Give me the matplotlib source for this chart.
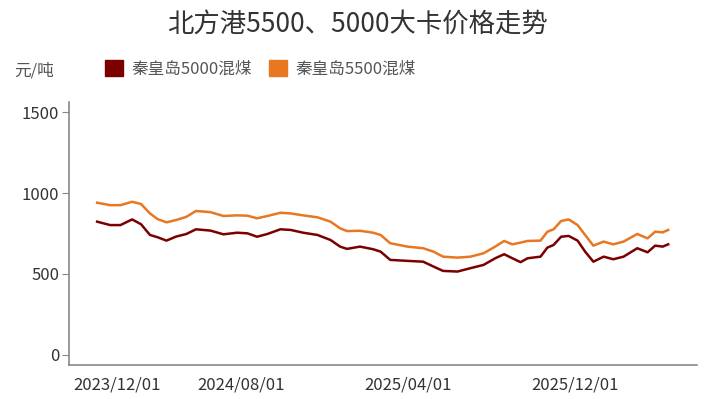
import matplotlib
matplotlib.use("Agg")
import matplotlib.pyplot as plt
import matplotlib.dates as mdates
from matplotlib.patches import Patch
import numpy as np
import pandas as pd


# ---- data ----
dates = pd.to_datetime([
    "2024-01-04", "2024-01-23", "2024-02-07", "2024-02-24", "2024-03-08",
    "2024-03-21", "2024-04-01", "2024-04-14", "2024-04-28", "2024-05-13",
    "2024-05-27", "2024-06-17", "2024-07-06", "2024-07-26", "2024-08-10",
    "2024-08-24", "2024-09-08", "2024-09-27", "2024-10-12", "2024-10-30",
    "2024-11-20", "2024-12-09", "2024-12-23", "2025-01-02", "2025-01-21",
    "2025-02-09", "2025-02-20", "2025-03-06", "2025-03-31", "2025-04-23",
    "2025-05-08", "2025-05-22", "2025-06-12", "2025-07-01", "2025-07-20",
    "2025-08-06", "2025-08-19", "2025-08-31", "2025-09-12", "2025-09-22",
    "2025-10-11", "2025-10-21", "2025-10-30", "2025-11-10", "2025-11-21",
    "2025-12-04", "2025-12-15", "2025-12-27", "2026-01-11", "2026-01-25",
    "2026-02-09", "2026-03-01", "2026-03-16", "2026-03-27", "2026-04-07",
    "2026-04-15",
])

coal_5000 = [
    823, 802, 802, 837, 807, 741, 727, 706, 731, 747,
    776, 768, 745, 755, 751, 730, 747, 776, 772, 755,
    741, 710, 669, 655, 669, 653, 638, 587, 581, 576,
    546, 519, 515, 536, 556, 597, 622, 597, 573, 597,
    607, 663, 679, 730, 735, 706, 638, 576, 607, 591,
    607, 659, 634, 675, 669, 683,
]

coal_5500 = [
    940, 925, 925, 946, 932, 874, 839, 819, 833, 853,
    889, 882, 858, 862, 860, 844, 858, 878, 874, 862,
    850, 823, 782, 765, 767, 755, 741, 690, 669, 659,
    638, 607, 601, 607, 628, 669, 704, 683, 694, 704,
    706, 761, 776, 827, 837, 802, 741, 675, 700, 683,
    700, 747, 720, 761, 757, 772,
]

series_names = ["秦皇岛5000混煤", "秦皇岛5500混煤"]
series_colors = ["#7B0000", "#E87722"]

x_tick_dates = pd.to_datetime(["2023-12-01", "2024-08-01", "2025-04-01", "2025-12-01"])
x_tick_labels = ["2023/12/01", "2024/08/01", "2025/04/01", "2025/12/01"]
y_ticks = [0, 500, 1000, 1500]


# ---- figure ----
plt.rcParams["font.family"] = ["Noto Sans CJK SC", "DejaVu Sans"]

W, H = 715, 399
fig = plt.figure(figsize=(W / 100, H / 100), dpi=100)
ax = fig.add_axes([69 / W, 1 - 365 / H, (697 - 69) / W, (365 - 102) / H])

ax.plot(dates, coal_5000, color=series_colors[0], linewidth=1.8)
ax.plot(dates, coal_5500, color=series_colors[1], linewidth=1.8)

ax.set_xlim(pd.Timestamp("2023-11-24"), pd.Timestamp("2026-05-27"))
ax.set_ylim(-62, 1562)

ax.set_yticks(y_ticks)
ax.tick_params(axis="y", length=5, color="#888888", labelcolor="#333333",
               labelsize=12, pad=2)
ax.set_xticks(x_tick_dates, x_tick_labels)
ax.tick_params(axis="x", length=0, labelcolor="#333333", labelsize=12, pad=8)
ax.get_xticklabels()[0].set_ha("left")

for side in ["top", "right"]:
    ax.spines[side].set_visible(False)
for side in ["left", "bottom"]:
    ax.spines[side].set_color("#888888")
    ax.spines[side].set_linewidth(1.2)

# 标题和单位
fig.text(357 / W, 1 - 25 / H, "北方港5500、5000大卡价格走势",
         ha="center", va="center", fontsize=19, color="#333333")
fig.text(14 / W, 1 - 71 / H, "元/吨", ha="left", va="center",
         fontsize=12, color="#555555")

# 图例（方块）
handles = [Patch(facecolor=c, edgecolor=c) for c in series_colors]
fig.legend(handles, series_names, loc="upper left",
           bbox_to_anchor=(105 / W, 1 - 60 / H), ncol=2, frameon=False,
           fontsize=12, handlelength=1.1, handleheight=1.1,
           handletextpad=0.5, columnspacing=1.0, borderpad=0,
           borderaxespad=0, labelcolor="#555555")

plt.savefig("out.png", dpi=100)
